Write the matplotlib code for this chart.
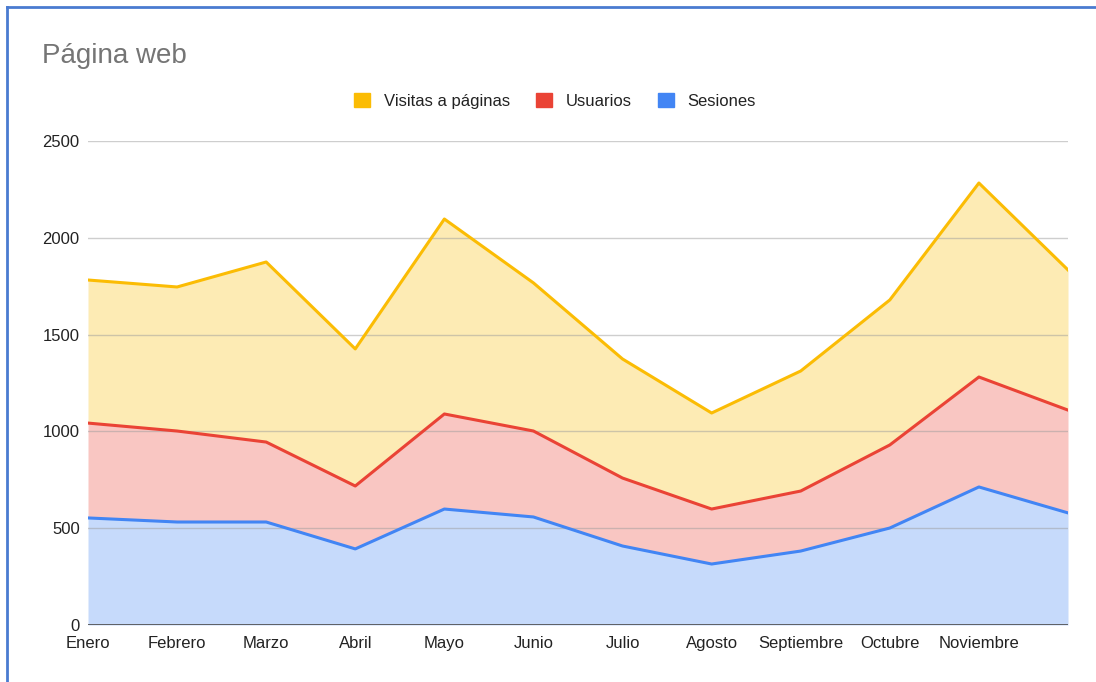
import numpy as np
import matplotlib.pyplot as plt
from matplotlib.patches import Patch
from matplotlib.lines import Line2D

plt.rcParams['font.family'] = ['Liberation Sans', 'DejaVu Sans']

# datos
meses = ['Enero', 'Febrero', 'Marzo', 'Abril', 'Mayo', 'Junio', 'Julio',
         'Agosto', 'Septiembre', 'Octubre', 'Noviembre', 'Diciembre']
visitas = [1782, 1746, 1875, 1426, 2097, 1767, 1374, 1095, 1312, 1679, 2283, 1834]
usuarios = [1043, 1002, 945, 718, 1090, 1002, 759, 599, 692, 930, 1281, 1110]
sesiones = [553, 532, 532, 393, 599, 558, 408, 315, 382, 501, 713, 579]

amarillo = '#FBBC04'
rojo = '#EA4335'
azul = '#4285F4'

fig = plt.figure(figsize=(10.96, 6.82), dpi=100)
ax = fig.add_axes([88 / 1096, 57 / 682, 980 / 1096, 484 / 682])

x = np.arange(len(meses))

# areas (colores al 30% sobre blanco)
ax.fill_between(x, usuarios, visitas, color='#FDEBB4', lw=0, zorder=1)
ax.fill_between(x, sesiones, usuarios, color='#F9C6C2', lw=0, zorder=1)
ax.fill_between(x, 0, sesiones, color='#C6DAFB', lw=0, zorder=1)

ax.plot(x, visitas, color=amarillo, lw=2.2, zorder=4)
ax.plot(x, usuarios, color=rojo, lw=2.2, zorder=4)
ax.plot(x, sesiones, color=azul, lw=2.2, zorder=4)

ax.set_xlim(0, 11)
ax.set_ylim(0, 2500)
ax.set_yticks([0, 500, 1000, 1500, 2000, 2500])
ax.yaxis.grid(True, color='#9E9E9E', alpha=0.5, lw=1, zorder=2)
ax.set_axisbelow(False)
ax.axhline(0, color='#555555', lw=2, zorder=5)

ax.set_xticks(x[:11])
ax.set_xticklabels(meses[:11])
ax.tick_params(axis='both', length=0, labelsize=12, labelcolor='#222222')
ax.tick_params(axis='x', pad=8)
ax.tick_params(axis='y', pad=6)
for s in ax.spines.values():
    s.set_visible(False)

fig.text(42 / 1096, 1 - 56 / 682, 'Página web', fontsize=20, color='#757575',
         va='center', ha='left')

handles = [Patch(facecolor=amarillo, edgecolor=amarillo),
           Patch(facecolor=rojo, edgecolor=rojo),
           Patch(facecolor=azul, edgecolor=azul)]
fig.legend(handles, ['Visitas a páginas', 'Usuarios', 'Sesiones'],
           loc='center', bbox_to_anchor=(555 / 1096, 1 - 101 / 682), ncol=3,
           frameon=False, fontsize=12, handlelength=0.95, handleheight=0.95,
           handletextpad=0.8, columnspacing=1.6, labelcolor='#222222')

# marco azul de la captura
fig.add_artist(Line2D([7 / 1096, 7 / 1096], [0, 1 - 7 / 682], color='#4A7BD0', lw=2,
                      transform=fig.transFigure))
fig.add_artist(Line2D([7 / 1096, 1], [1 - 7 / 682, 1 - 7 / 682], color='#4A7BD0', lw=2,
                      transform=fig.transFigure))

fig.savefig('out.png', dpi=100)
